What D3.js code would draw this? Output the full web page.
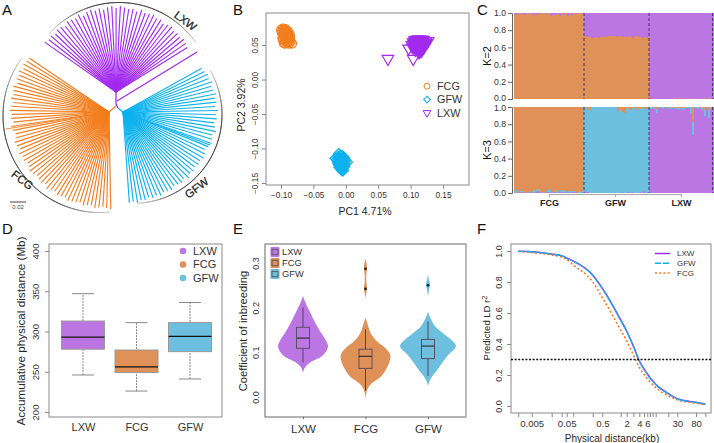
<!DOCTYPE html>
<html><head><meta charset="utf-8">
<script src="https://cdn.jsdelivr.net/npm/d3@7/dist/d3.min.js"></script>
<style>html,body{margin:0;padding:0;background:#fff}svg{display:block}text{font-family:"Liberation Sans",Arial,sans-serif;fill:#262626}</style>
</head><body><svg id="c" width="714" height="443"></svg>
<script>
// ---------- DATA ----------
// A: tree tip lengths
const treeLXW=[87,85,86,84,86,85,83,86,85,84,86,83,85,86,84,85,83,85,86,84,86,85,84,85,83,86,84,85,86,84,85,83,85,86,84,85,84,86,85,84];
const treeFCG=[96,97,98,96,99,97,98,96,99,98,97,99,96,98,99,97,98,96,99,98,96,97,99,98,96,99,97,98,96,97,99,98,96,97,98,96,99,97,96,98,97,96,98,97,96,95,97,96,95,97,96,95,96,97];
const treeGFW=[90,91,93,92,94,92,93,95,93,94,92,95,93,94,92,93,95,92,93,94,92,90,92,93,91,92,90,92,91,93,90,92,91,90,92,91,90,92,90,91,89,91,90,92,90,91];
// B: PCA scores
const fcgPC1=[-.1,-.098,-.099,-.097,-.096,-.095,-.094,-.096,-.093,-.092,-.091,-.09,-.089,-.088,-.087,-.086,-.095,-.097,-.094,-.092,-.09,-.088,-.093,-.091,-.089,-.087,-.096,-.094,-.092,-.09,-.085,-.083,-.088,-.091,-.086,-.095,-.098,-.093,-.089,-.087];
const fcgPC2=[.072,.07,.068,.074,.072,.069,.067,.065,.071,.069,.066,.068,.065,.063,.066,.063,.061,.058,.058,.06,.062,.06,.055,.056,.057,.058,.053,.052,.054,.053,.055,.052,.052,.064,.059,.063,.06,.073,.07,.054];
const gfwPC1=[-.011,-.008,-.012,-.016,-.014,-.01,-.006,-.003,-.013,-.01,-.007,-.004,-.001,-.012,-.009,-.006,-.002,.002,-.011,-.008,-.005,-.002,-.009,-.006,-.003,-.008,-.005,-.002,-.007,-.005,-.004,-.006,-.01,-.004,-.003,-.007];
const gfwPC2=[-.108,-.11,-.112,-.114,-.116,-.114,-.111,-.113,-.118,-.117,-.116,-.115,-.117,-.121,-.12,-.119,-.119,-.12,-.124,-.123,-.122,-.122,-.126,-.125,-.124,-.128,-.127,-.126,-.13,-.129,-.132,-.132,-.127,-.112,-.116,-.121];
const lxwPC1=[.065,.097,.104,.102,.104,.106,.108,.11,.112,.114,.116,.118,.12,.122,.124,.127,.105,.107,.109,.111,.113,.115,.117,.119,.121,.108,.11,.112,.114,.116,.118,.111,.113,.115,.112,.114,.12,.106,.123,.117,.103,.105,.107,.109,.111,.113,.115,.117,.119,.107,.109,.111,.113,.115,.125,.121,.11,.116,.118,.113];
const lxwPC2=[.03,.045,.03,.05,.054,.057,.057,.058,.058,.058,.057,.058,.057,.056,.056,.056,.048,.05,.052,.054,.053,.055,.053,.052,.05,.045,.047,.049,.05,.048,.047,.043,.044,.045,.04,.04,.046,.052,.053,.042,.047,.051,.054,.056,.056,.056,.056,.055,.055,.043,.046,.048,.042,.043,.053,.048,.051,.051,.045,.047];
// C: admixture proportions (percent), one entry per sample
const k2OrangeFCG=[100,99,98,98,99,100,100,100,99,99,100,98,100,100,100,99,100,100,100,98,99,100,99,98,100,99,100,100,100,100,100,99,100,100,100,100,100,97,98,100,99,98,99,100,100,99,97,100,100,100,98,100,100,100,97,100,100,99,98,100,100,100,100,99,100,100,100,100,99,100,100];
const k2OrangeGFW=[74,73,72,72,73,73,72,71,72,71,73,72,72,73,71,72,72,73,74,72,73,73,72,73,74,73,76,73,74,73,74,73,72,74,73,73,74,72,73,72,74,73,72,73,74,73,74,72,71,73,72,74,73,74,73,72,73,72,71,72,72,73,71,72,73];
const k2OrangeLXW=[0,0,0,0,0,0,0,5,1,0,0,0,0,0,0,0,0,2,1,0,0,0,0,0,1,2,1,0,1,1,2,0,1,2,1,0,0,0,0,0,1,4,0,27,1,0,0,0,0,0,0,0,0,1,7,1,0,0,1,9,2,0,1,0];
const k3PurpleFCG=[1,1,0,2,1,0,1,1,1,2,1,0,1,1,0,1,2,0,1,1,0,1,1,2,2,2,1,0,1,1,0,0,1,1,2,1,2,1,0,1,1,1,2,0,1,1,1,2,1,1,0,1,1,1,0,1,1,0,1,1,2,1,0,1,1,0,0,1,1,0,1];
const k3BlueFCG=[1,3,5,3,1,0,1,2,1,1,1,0,3,0,1,2,3,0,1,3,4,2,1,1,5,3,6,1,0,1,1,0,1,1,3,4,1,2,1,1,0,1,4,3,1,0,2,5,1,2,6,2,1,0,7,1,1,2,3,1,3,1,0,1,0,2,1,0,1,2,1];
const k3PurpleGFW=[2,3,1,2,1,0,0,0,1,0,0,0,1,0,0,0,0,0,1,0,0,0,0,0,0,0,1,0,0,0,0,1,0,0,0,2,1,0,3,1,0,0,2,1,2,0,1,1,1,0,1,0,0,0,0,2,1,0,1,2,3,0,4,1,0];
const k3OrangeGFW=[0,0,0,3,1,3,0,0,0,0,0,0,0,0,0,0,0,0,0,0,0,0,0,0,0,0,0,0,0,0,0,0,0,5,1,0,3,1,6,2,7,1,0,0,2,0,3,1,0,0,0,2,4,1,0,2,0,0,0,1,2,1,2,0,0];
const k3BlueLXW=[1,2,1,1,0,1,1,5,1,1,0,1,0,2,1,0,0,1,1,0,2,1,1,0,1,0,1,1,2,2,1,0,1,3,1,2,0,1,0,1,0,8,1,15,1,0,1,0,2,1,0,0,3,1,4,6,1,0,2,9,2,0,1,0];
const k3OrangeLXW=[0,0,0,0,0,1,0,2,0,0,1,0,0,0,0,0,0,1,0,0,0,0,1,0,0,0,1,0,0,1,1,0,0,1,1,0,0,0,0,0,0,0,0,17,0,0,0,0,0,0,1,0,0,1,0,4,0,0,0,4,1,0,0,0];
const fractionTicks=[0,.2,.4,.6,.8,1];
// D: boxplot of accumulative physical distance
const groupOrder=["LXW","FCG","GFW"];
const distLow=[246,226,241], distQ1=[278,249,275], distMed=[293,256,294], distQ3=[313,277,311], distHigh=[347,311,336];
const distTicks=[200,250,300,350,400];
// E: inbreeding violins (value, relative density) and box stats
const vioLXWv=[.054,.068,.079,.09,.1,.114,.128,.143,.165,.188,.207,.226];
const vioLXWd=[0,.1,.33,.73,.9,1,.9,.73,.5,.3,.13,0];
const vioFCGv=[-.006,.011,.03,.045,.06,.079,.092,.109,.124,.143,.162,.178];
const vioFCGd=[0,.04,.24,.6,.8,.96,1,.8,.47,.21,.09,0];
const vioGFWv=[.026,.045,.06,.079,.094,.114,.128,.143,.158,.173,.191];
const vioGFWd=[0,.15,.36,.6,.81,1.12,.93,.6,.29,.13,0];
const lobeFCGv=[.222,.235,.245,.26,.27,.29,.3,.31];
const lobeFCGd=[0,.04,.06,.03,.03,.06,.04,0];
const lobeGFWv=[.226,.24,.252,.262,.274];
const lobeGFWd=[0,.04,.08,.04,0];
const fLow=[.077,.014,.047], fQ1=[.109,.064,.086], fMed=[.132,.091,.114], fQ3=[.156,.107,.129], fHigh=[.2,.152,.169];
const fOutFCG=[.242,.287], fOutGFW=[.25];
const fTicks=[0,.1,.2,.3];
// F: LD decay
const ldKb=[.0025,.005,.02,.035,.05,.1,.3,.5,1,2,3,4,5,6,7,8,9,20,30,80,150];
const ldLXW=[.998,.995,.98,.97,.955,.935,.845,.76,.556,.484,.388,.292,.24,.208,.183,.163,.14,.08,.047,.024,.013];
const ldGFW=[.998,.995,.98,.968,.953,.933,.842,.756,.552,.48,.385,.288,.236,.205,.18,.16,.138,.078,.046,.023,.012];
const ldFCG=[.998,.99,.975,.96,.945,.91,.8,.7,.49,.42,.33,.25,.205,.175,.155,.137,.118,.066,.04,.018,.008];
const ldLabels=[.005,.05,.5,2,4,6,30,80];
const ldYTicks=[0,.2,.4,.6,.8,1];
const ldThreshold=.3;

// ---------- STYLE ----------
const ORANGE="#E09158",PURPLE="#BC76E4",BLUE="#6DBFDF";
const vivid={FCG:"#F27E1E",GFW:"#0DB2EE",LXW:"#A32BEF"};
const soft={LXW:PURPLE,FCG:ORANGE,GFW:BLUE};
const AX="#8a8a8a";
const svg=d3.select("#c");
const rad=d=>d*Math.PI/180;
function label(t,x,y,size,o={}){
  const e=svg.append("text").attr("x",x).attr("y",y).attr("font-size",size).attr("text-anchor",o.anchor||"start").text(t);
  if(o.rotate!=null)e.attr("transform",`rotate(${o.rotate},${x},${y})`);
  if(o.weight)e.attr("font-weight",o.weight);
  if(o.fill)e.style("fill",o.fill);
  return e;
}
function styleAxis(g,o={}){
  g.select(".domain").remove();
  g.selectAll("line").attr("stroke",o.tick||AX);
  g.selectAll("text").attr("font-size",o.size||9).style("fill",o.fill||"#333");
}
function rotY(g,off){
  g.selectAll("text").attr("x",0).attr("dy",0).attr("text-anchor","middle").attr("transform",`translate(${-off},0) rotate(-90)`);
}
function box(x0,y0,x1,y1,c,w){svg.append("rect").attr("x",x0).attr("y",y0).attr("width",x1-x0).attr("height",y1-y0).attr("fill","none").attr("stroke",c||AX).attr("stroke-width",w||1);}
[["A",2,15],["B",233,15],["C",477,15],["D",2,234],["E",233,234],["F",477,234]].forEach(d=>label(d[0],d[1],d[2],15,{fill:"#111"}));

// ---------- A: tree ----------
const clades=[
 {key:"LXW",len:treeLXW,o:[116,92],a:[-55,58],arc:[119,96,93.5,-48,55]},
 {key:"FCG",len:treeFCG,o:[109,112],a:[-56,-181],arc:[100,115.6,97,-53.5,-186]},
 {key:"GFW",len:treeGFW,o:[123,112],a:[61,176],arc:[133.3,114.6,88.7,60,177]}
];
const gray=d3.scaleLinear().domain([0,.3,.75,1]).range(["#d0d0d0","#333","#333","#d0d0d0"]);
clades.forEach(c=>{
  const ang=d3.scaleLinear().domain([0,c.len.length-1]).range(c.a);
  const line=d3.line();
  svg.append("g").selectAll("path").data(c.len).join("path")
    .attr("d",(d,i)=>{const t=rad(ang(i));return line([c.o,[c.o[0]+d*Math.sin(t),c.o[1]-d*Math.cos(t)]]);})
    .attr("stroke",vivid[c.key]).attr("stroke-width",1.15).attr("fill","none");
  const [cx,cy,r,a0,a1]=c.arc,N=40,sa=d3.scaleLinear().domain([0,N]).range([a0,a1]);
  const arc=d3.arc().innerRadius(r).outerRadius(r);
  svg.append("g").attr("transform",`translate(${cx},${cy})`).selectAll("path").data(d3.range(N)).join("path")
    .attr("d",i=>arc({startAngle:rad(sa(i)),endAngle:rad(sa(i+1))+.002}))
    .attr("stroke",i=>gray((i+.5)/N)).attr("stroke-width",.7).attr("fill","none");
});
const stems=[["LXW",[[116,92],[116,104],[118,108]]],["LXW",[[117,101],[197,52]]],["FCG",[[116,106],[109,112]]],["FCG",[[109,112],[6,129]]],["GFW",[[118,108],[123,112]]],["GFW",[[123,112],[210,145]]]];
stems.forEach((s,i)=>svg.append("path").attr("d",d3.line()(s[1])).attr("stroke",vivid[s[0]]).attr("stroke-width",i==3?.9:1.3).attr("fill","none"));
label("LXW",183,24,11.3,{anchor:"middle",rotate:37}).attr("stroke","#222").attr("stroke-width",.25);
label("FCG",20,183,11.3,{anchor:"middle",rotate:38}).attr("stroke","#222").attr("stroke-width",.25);
label("GFW",199,191,11.3,{anchor:"middle",rotate:-37}).attr("stroke","#222").attr("stroke-width",.25);
svg.append("line").attr("x1",10).attr("x2",26).attr("y1",202).attr("y2",202).attr("stroke","#444");
label("0.02",18,209,5.8,{anchor:"middle",fill:"#444"});

// ---------- B: PCA ----------
const bx=d3.scaleLinear().domain([-.1,.15]).range([281,443]);
const by=d3.scaleLinear().domain([-.15,.05]).range([183,45]);
box(266,13,469,185);
styleAxis(svg.append("g").attr("transform","translate(0,185)").call(d3.axisBottom(bx).tickValues([-.1,-.05,0,.05,.1,.15]).tickFormat(d3.format(".2f")).tickSize(4).tickPadding(3)),{size:8.3});
const byAxis=svg.append("g").attr("transform","translate(266,0)").call(d3.axisLeft(by).tickValues([-.15,-.1,-.05,0,.05]).tickFormat(d3.format(".2f")).tickSize(4));
styleAxis(byAxis,{size:8.3});rotY(byAxis,8);
label("PC1 4.71%",365,215,10.5,{anchor:"middle"});
label("PC2 3.92%",245,105,10.5,{anchor:"middle",rotate:-90});
const circleG=svg.append("g");
circleG.selectAll("circle").data(d3.zip(fcgPC1,fcgPC2)).join("circle").attr("cx",d=>bx(d[0])).attr("cy",d=>by(d[1])).attr("r",4.4).attr("fill","none").attr("stroke",vivid.FCG).attr("stroke-width",1.25);
const sq=d3.symbol().type(d3.symbolSquare).size(58)(), tri=d3.symbol().type(d3.symbolTriangle).size(58)();
svg.append("g").selectAll("path").data(d3.zip(gfwPC1,gfwPC2)).join("path").attr("d",sq).attr("transform",d=>`translate(${bx(d[0])},${by(d[1])}) rotate(45)`).attr("fill","none").attr("stroke",vivid.GFW).attr("stroke-width",1.25);
svg.append("g").selectAll("path").data(d3.zip(lxwPC1,lxwPC2)).join("path").attr("d",tri).attr("transform",d=>`translate(${bx(d[0])},${by(d[1])}) rotate(180)`).attr("fill","none").attr("stroke",vivid.LXW).attr("stroke-width",1.2);
const bl=d3.scaleBand().domain(["FCG","GFW","LXW"]).range([79,119]);
["FCG","GFW","LXW"].forEach(k=>{
  const y=bl(k)+bl.bandwidth()/2+.5;
  if(k=="FCG")svg.append("circle").attr("cx",427).attr("cy",y).attr("r",3).attr("fill","none").attr("stroke",vivid.FCG);
  else svg.append("path").attr("d",d3.symbol().type(k=="GFW"?d3.symbolSquare:d3.symbolTriangle).size(k=="GFW"?22:26)()).attr("transform",`translate(427,${y}) rotate(${k=="GFW"?45:180})`).attr("fill","none").attr("stroke",vivid[k]);
  label(k,437,y+3.8,10.8,{fill:"#333"});
});

// ---------- C: structure ----------
const groups=[
 {n:"FCG",x:[513.5,584]},{n:"GFW",x:[584,649]},{n:"LXW",x:[649,713]}];
const k2rows=[k2OrangeFCG,k2OrangeGFW,k2OrangeLXW].map(a=>a.map(o=>({orange:o,blue:0,purple:100-o})));
const k3rows=[
 k3PurpleFCG.map((d,i)=>({purple:d,blue:k3BlueFCG[i],orange:100-d-k3BlueFCG[i]})),
 k3PurpleGFW.map((d,i)=>({purple:d,orange:k3OrangeGFW[i],blue:100-d-k3OrangeGFW[i]})),
 k3BlueLXW.map((d,i)=>({blue:d,orange:k3OrangeLXW[i],purple:100-d-k3OrangeLXW[i]}))];
const colC={orange:ORANGE,blue:BLUE,purple:PURPLE};
function structure(rows,keys,y0,y1,nudge){
  const y=d3.scaleLinear().domain([0,100]).range([y1,y0]);
  const st=d3.stack().keys(keys);
  groups.forEach((g,gi)=>{
    const x=d3.scaleBand().domain(d3.range(rows[gi].length)).range(g.x);
    st(rows[gi]).forEach(layer=>{
      svg.append("g").attr("shape-rendering","crispEdges").selectAll("rect").data(layer.filter(d=>d[1]>d[0])).join("rect")
       .attr("x",d=>x(layer.indexOf(d))).attr("width",x.bandwidth()+.5)
       .attr("y",d=>y(d[1])).attr("height",d=>y(d[0])-y(d[1])).attr("fill",colC[layer.key]);
    });
  });
  const ya=d3.scaleLinear().domain([0,1]).range([y1,y0]);
  const a=svg.append("g").attr("transform","translate(512,0)").call(d3.axisLeft(ya).tickValues(fractionTicks).tickFormat(d3.format(".1f")).tickSize(4).tickPadding(2));
  a.select(".domain").attr("stroke","#666");
  a.selectAll("line").attr("stroke","#666");a.selectAll("text").attr("font-size",8.6).style("fill","#333");
  a.selectAll("text").filter(d=>d===nudge.v).attr("y",nudge.dy);
}
structure(k2rows,["orange","blue","purple"],13,99,{v:0,dy:-1.2});
structure(k3rows,["purple","blue","orange"],107,193,{v:1,dy:1.2});
[584,649,712.5].forEach(x=>[[13,99],[107,193]].forEach(r=>svg.append("line").attr("x1",x).attr("x2",x).attr("y1",r[0]).attr("y2",r[1]).attr("stroke","#3a3050").attr("stroke-width",.9).attr("stroke-dasharray","3 2")));
label("K=2",491,56,11,{anchor:"middle",rotate:-90,fill:"#111"});
label("K=3",491,150,11,{anchor:"middle",rotate:-90,fill:"#111"});
const cx=d3.scalePoint().domain(["FCG","GFW","LXW"]).range([549,681]);
const cax=svg.append("g").attr("transform","translate(0,194)").call(d3.axisBottom(cx).tickSize(3).tickPadding(3));
cax.select(".domain").attr("stroke","#aaa");cax.selectAll("line").attr("stroke","#aaa");
cax.selectAll("text").attr("font-size",9).attr("font-weight","bold").style("fill","#222");

// ---------- D: boxplot ----------
const dx=d3.scalePoint().domain(groupOrder).range([83,190]);
const dy=d3.scaleLinear().domain([200,400]).range([412,251]);
box(49,244,222,417);
const dya=svg.append("g").attr("transform","translate(49,0)").call(d3.axisLeft(dy).tickValues(distTicks).tickSize(4));
styleAxis(dya,{size:9.6});rotY(dya,10);
const dxa=svg.append("g").attr("transform","translate(0,417)").call(d3.axisBottom(dx).tickSize(0).tickPadding(6));
dxa.select(".domain").remove();dxa.selectAll("text").attr("font-size",11).style("fill","#333");
label("Accumulative physical distance (Mb)",25,331,11.7,{anchor:"middle",rotate:-90});
groupOrder.forEach((g,i)=>{
  const X=dx(g),hw=21.5,G=svg.append("g");
  G.append("line").attr("x1",X).attr("x2",X).attr("y1",dy(distLow[i])).attr("y2",dy(distHigh[i])).attr("stroke","#888").attr("stroke-dasharray","2 1");
  [distLow[i],distHigh[i]].forEach(v=>G.append("line").attr("x1",X-11).attr("x2",X+11).attr("y1",dy(v)).attr("y2",dy(v)).attr("stroke","#888"));
  G.append("rect").attr("x",X-hw).attr("width",hw*2).attr("y",dy(distQ3[i])).attr("height",dy(distQ1[i])-dy(distQ3[i])).attr("fill",soft[g]).attr("stroke","#999");
  G.append("line").attr("x1",X-hw).attr("x2",X+hw).attr("y1",dy(distMed[i])).attr("y2",dy(distMed[i])).attr("stroke","#111").attr("stroke-width",1.4);
  const ly=251+i*13.5;
  svg.append("circle").attr("cx",183).attr("cy",ly).attr("r",3.3).attr("fill",soft[g]);
  label(g,193,ly+3.8,11,{fill:"#333"});
});

// ---------- E: violins ----------
const ex=d3.scalePoint().domain(groupOrder).range([303,428]);
const ey=d3.scaleLinear().domain([0,.3]).range([397,263]);
const ew=d3.scaleLinear().domain([0,1]).range([0,25]);
box(265,244,466,417,"#666");
svg.append("line").attr("x1",466).attr("x2",466).attr("y1",244).attr("y2",417).attr("stroke","#bbb").attr("stroke-width",1.5);
const eya=svg.append("g").attr("transform","translate(265,0)").call(d3.axisLeft(ey).tickValues(fTicks).tickFormat(d3.format(".1f")).tickSize(0));
styleAxis(eya,{size:9});rotY(eya,6);
const exa=svg.append("g").attr("transform","translate(0,417)").call(d3.axisBottom(ex).tickSize(2).tickPadding(6));
exa.select(".domain").remove();exa.selectAll("line").attr("stroke","#666");exa.selectAll("text").attr("font-size",11.5).style("fill","#333");
label("Coefficient of inbreeding",247,331,11.2,{anchor:"middle",rotate:-90});
function violin(g,vs,ds){
  const X=ex(g);
  const area=d3.area().curve(d3.curveMonotoneY).y(d=>ey(d[0])).x0(d=>X-ew(d[1])).x1(d=>X+ew(d[1]));
  svg.append("path").attr("d",area(d3.zip(vs,ds))).attr("fill",soft[g]);
}
violin("LXW",vioLXWv,vioLXWd);violin("FCG",vioFCGv,vioFCGd);violin("GFW",vioGFWv,vioGFWd);
violin("FCG",lobeFCGv,lobeFCGd);violin("GFW",lobeGFWv,lobeGFWd);
groupOrder.forEach((g,i)=>{
  const X=ex(g),hw=6.5,G=svg.append("g");
  G.append("line").attr("x1",X).attr("x2",X).attr("y1",ey(fLow[i])).attr("y2",ey(fHigh[i])).attr("stroke","#4d4458");
  G.append("rect").attr("x",X-hw).attr("width",hw*2).attr("y",ey(fQ3[i])).attr("height",ey(fQ1[i])-ey(fQ3[i])).attr("fill",soft[g]).attr("stroke","#5a5060");
  G.append("line").attr("x1",X-hw).attr("x2",X+hw).attr("y1",ey(fMed[i])).attr("y2",ey(fMed[i])).attr("stroke","#333").attr("stroke-width",1.2);
  const ly=252+i*11;
  svg.append("rect").attr("x",270.5).attr("y",ly-5).attr("width",9).attr("height",10).attr("rx",1).attr("fill",soft[g]);
  svg.append("rect").attr("x",272).attr("y",ly-2.7).attr("width",6).attr("height",5.4).attr("fill","none").attr("stroke","#555").attr("stroke-width",.9);
  label(g,282,ly+3.2,9.3,{fill:"#333"});
});
[["FCG",fOutFCG],["GFW",fOutGFW]].forEach(o=>svg.append("g").selectAll("circle").data(o[1]).join("circle").attr("cx",ex(o[0])).attr("cy",d=>ey(d)).attr("r",1.4).attr("fill","#222"));

// ---------- F: LD decay ----------
const fx=d3.scaleLog().domain(ldKb).range([518.3,531.7,551.7,561.7,566.7,573.3,592.7,602.3,620.7,626.7,633.3,639.3,644,647.3,650,652.7,655.7,668.3,677.3,696,705.3]);
const fy=d3.scaleLinear().domain([0,1]).range([406,251]);
box(511,244,711,413);
const fya=svg.append("g").attr("transform","translate(511,0)").call(d3.axisLeft(fy).tickValues(ldYTicks).tickFormat(d3.format(".1f")).tickSize(4));
styleAxis(fya,{size:9});rotY(fya,9);
const fxa=svg.append("g").attr("transform","translate(0,413)").call(d3.axisBottom(fx).tickValues(ldKb).tickFormat(d=>ldLabels.includes(d)?String(d):"").tickSize(4).tickPadding(3));
styleAxis(fxa,{size:9.6});
label("Physical distance(kb)",612,441.5,10,{anchor:"middle"});
const rl=label("Predicted LD r",490,328,9.5,{anchor:"middle",rotate:-90});
rl.append("tspan").text("2").attr("dy",-3).attr("font-size",7.5);
const fl=d3.line().curve(d3.curveMonotoneX).x((d,i)=>fx(ldKb[i])).y(d=>fy(d));
const lineStyles=[["LXW",ldLXW,vivid.LXW,null,1.5],["FCG",ldFCG,"#F47A2A","2 2.2",1.6],["GFW",ldGFW,vivid.GFW,"6 1",1.3]];
lineStyles.forEach(s=>svg.append("path").attr("d",fl(s[1])).attr("fill","none").attr("stroke",s[2]).attr("stroke-width",s[4]).attr("stroke-dasharray",s[3]));
svg.append("line").attr("x1",511).attr("x2",711).attr("y1",fy(ldThreshold)).attr("y2",fy(ldThreshold)).attr("stroke","#111").attr("stroke-width",1.3).attr("stroke-dasharray","2 1.6");
[["LXW",vivid.LXW,null],["GFW",vivid.GFW,"6 2"],["FCG","#F47A2A","2 2.2"]].forEach((s,i)=>{
  const y=253.5+i*9.7;
  svg.append("line").attr("x1",655).attr("x2",670).attr("y1",y).attr("y2",y).attr("stroke",s[1]).attr("stroke-width",1.5).attr("stroke-dasharray",s[2]);
  label(s[0],677,y+2.9,8,{fill:"#333"});
});
</script></body></html>
